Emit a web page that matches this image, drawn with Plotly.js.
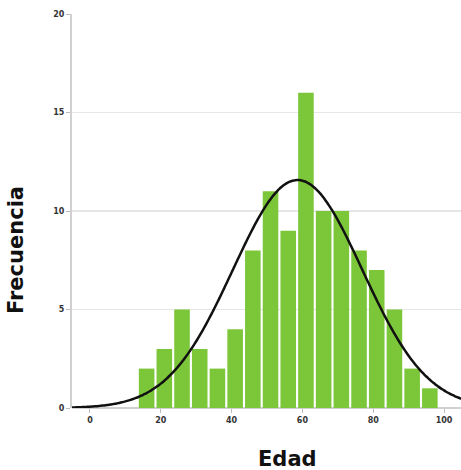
<!DOCTYPE html>
<html>
<head>
<meta charset="utf-8">
<script src="https://cdn.plot.ly/plotly-3.0.1.min.js"></script>
<style>html,body{margin:0;padding:0;background:#fff;}#chart{width:461px;height:470px;}</style>
</head>
<body>
<div id="chart"></div>
<script>
// Bin centres (Edad) and counts (Frecuencia)
const binCenters = [16, 21, 26, 31, 36, 41, 46, 51, 56, 61, 66, 71, 76, 81, 86, 91, 96];
const counts     = [2, 3, 5, 3, 2, 4, 8, 11, 9, 16, 10, 10, 8, 7, 5, 2, 1];
const xTickVals  = [0, 20, 40, 60, 80, 100];
const yTickVals  = [0, 5, 10, 15, 20];
const binWidth = 5;

// Normal curve fitted to the histogram data (mean and sd of the binned data)
const N = counts.reduce((a, b) => a + b, 0);
const mean = binCenters.reduce((s, x, i) => s + x * counts[i], 0) / N;
const sd = Math.sqrt(binCenters.reduce((s, x, i) => s + counts[i] * (x - mean) ** 2, 0) / (N - 1));
const curveX = [], curveY = [];
for (let x = -6; x <= 108; x += 0.5) {
  curveX.push(x);
  curveY.push(N * binWidth / (sd * Math.sqrt(2 * Math.PI)) * Math.exp(-0.5 * ((x - mean) / sd) ** 2));
}

const data = [
  {type: 'bar', x: binCenters, y: counts, width: binWidth * 0.88,
   marker: {color: '#7cc63a', line: {width: 0}}, hoverinfo: 'skip'},
  {type: 'scatter', mode: 'lines', x: curveX, y: curveY,
   line: {color: '#111111', width: 2.5, shape: 'spline'}, hoverinfo: 'skip'}
];

const tickFont = {family: 'DejaVu Sans, sans-serif', size: 8, color: '#333', weight: 700};
const titleFont = {family: 'DejaVu Sans, sans-serif', size: 21, color: '#111', weight: 700};
const layout = {
  width: 461, height: 470,
  margin: {l: 72, r: 0, t: 14, b: 62},
  paper_bgcolor: '#fff', plot_bgcolor: '#fff',
  showlegend: false,
  xaxis: {range: [-5.08, 104.8], tickvals: xTickVals, ticks: 'outside', ticklen: 4,
          tickcolor: '#bbb', tickfont: tickFont, showgrid: false, zeroline: false,
          showline: false},
  yaxis: {range: [0, 20], tickvals: yTickVals, ticks: 'outside', ticklen: 4,
          tickcolor: '#bbb', tickfont: tickFont, showgrid: true, gridcolor: '#e6e6e6',
          gridwidth: 1.5, zeroline: true, zerolinecolor: '#d0d0d0', zerolinewidth: 1.5,
          showline: true, linecolor: '#d0d0d0', linewidth: 2},
  annotations: [
    {text: 'Edad', xref: 'paper', yref: 'paper', x: 0.553, y: -0.129,
     xanchor: 'center', yanchor: 'middle', showarrow: false, font: titleFont},
    {text: 'Frecuencia', xref: 'paper', yref: 'paper', x: -0.144, y: 0.401,
     xanchor: 'center', yanchor: 'middle', showarrow: false, textangle: -90, font: titleFont}
  ]
};

Plotly.newPlot('chart', data, layout, {displayModeBar: false, staticPlot: true});
</script>
</body>
</html>
